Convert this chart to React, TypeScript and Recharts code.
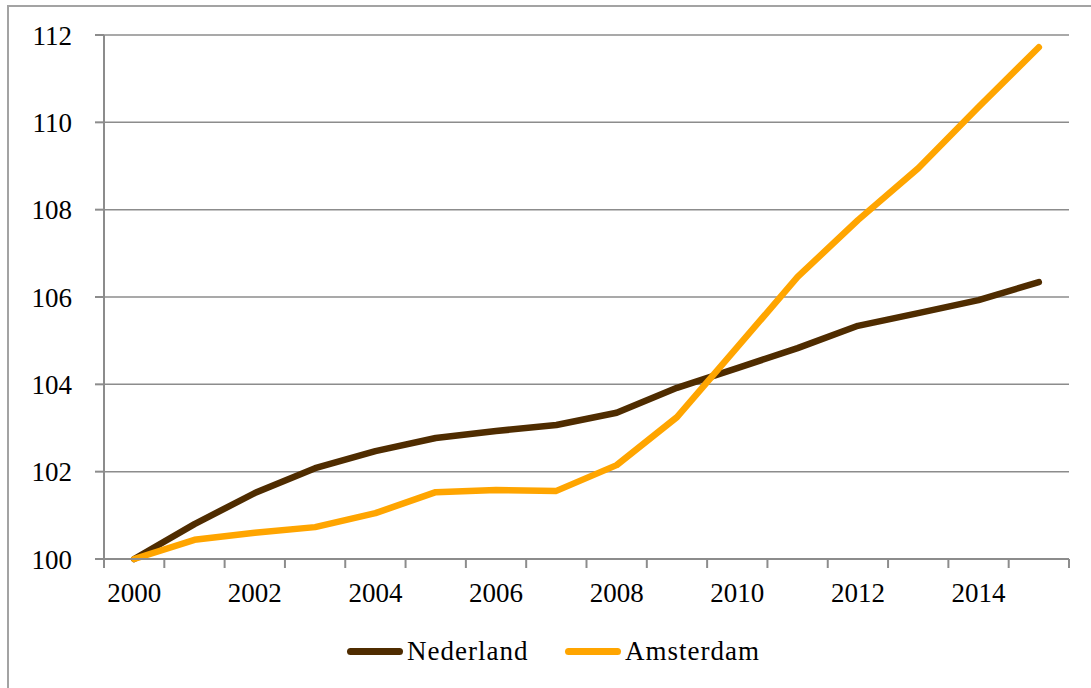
import { LineChart, Line, CartesianGrid, XAxis, YAxis } from "recharts";

// index 2000 = 100
const years = [
  "2000", "2001", "2002", "2003", "2004", "2005", "2006", "2007",
  "2008", "2009", "2010", "2011", "2012", "2013", "2014", "2015",
];
const nederland = [
  100, 100.8, 101.51, 102.08, 102.47, 102.77, 102.93, 103.07,
  103.35, 103.92, 104.37, 104.83, 105.34, 105.63, 105.93, 106.34,
];
const amsterdam = [
  100, 100.44, 100.6, 100.73, 101.05, 101.53, 101.58, 101.56,
  102.15, 103.25, 104.85, 106.46, 107.76, 108.95, 110.35, 111.72,
];
const yTicks = [100, 102, 104, 106, 108, 110, 112];

const data = years.map((y, i) => ({
  year: y,
  Nederland: nederland[i],
  Amsterdam: amsterdam[i],
}));

const FONT = "'Liberation Serif', 'Times New Roman', serif";
const AXIS = "#8c8c8c";
const BROWN = "#4f2c00";
const ORANGE = "#ffa500";

const W = 1091;
const H = 688;
const PLOT_LEFT = 104;
const PLOT_RIGHT = 1069;
const HALF = (PLOT_RIGHT - PLOT_LEFT) / years.length / 2;

function YearTick(props: any) {
  const { x, y, payload, index } = props;
  const showLabel = Number(payload.value) % 2 === 0;
  return (
    <g>
      <line x1={x - HALF} x2={x - HALF} y1={y} y2={y + 9} stroke={AXIS} strokeWidth={2} />
      {index === years.length - 1 && (
        <line x1={x + HALF} x2={x + HALF} y1={y} y2={y + 9} stroke={AXIS} strokeWidth={2} />
      )}
      {showLabel && (
        <text
          x={x}
          y={y + 34}
          textAnchor="middle"
          dominantBaseline="central"
          fill="#000"
          fontSize={27}
          fontFamily={FONT}
        >
          {payload.value}
        </text>
      )}
    </g>
  );
}

function LegendItem({ left, textLeft, color, label }: { left: number; textLeft: number; color: string; label: string }) {
  return (
    <>
      <div
        style={{
          position: "absolute",
          left,
          top: 648,
          width: textLeft - left - 4,
          height: 7,
          borderRadius: 3.5,
          background: color,
        }}
      />
      <div
        style={{
          position: "absolute",
          left: textLeft,
          top: 634,
          fontSize: 27,
          lineHeight: "34px",
          letterSpacing: 1,
          fontFamily: FONT,
          color: "#000",
          whiteSpace: "nowrap",
        }}
      >
        {label}
      </div>
    </>
  );
}

export default function App() {
  return (
    <div
      style={{
        position: "fixed",
        left: 0,
        top: 0,
        width: W,
        height: H,
        overflow: "hidden",
        background: "#fff",
        fontFamily: FONT,
      }}
    >
      {/* outer frame, runs off the right and bottom edges */}
      <div
        style={{
          position: "absolute",
          left: 7,
          top: 5,
          width: 1200,
          height: 800,
          border: "2px solid #a3a3a3",
        }}
      />
      <div style={{ position: "absolute", left: 0, top: 0 }}>
        <LineChart width={W} height={H} data={data} margin={{ top: 35, right: W - PLOT_RIGHT, bottom: 0, left: 0 }}>
          <CartesianGrid vertical={false} stroke={AXIS} strokeWidth={1.5} />
          <XAxis
            dataKey="year"
            height={H - 559}
            interval={0}
            padding={{ left: HALF, right: HALF }}
            tickSize={0}
            tickMargin={0}
            tickLine={false}
            axisLine={{ stroke: AXIS, strokeWidth: 2 }}
            tick={<YearTick />}
          />
          <YAxis
            width={PLOT_LEFT}
            domain={[100, 112]}
            ticks={yTicks}
            interval={0}
            tickSize={9}
            tickMargin={23}
            tickLine={{ stroke: AXIS, strokeWidth: 2 }}
            axisLine={{ stroke: AXIS, strokeWidth: 2 }}
            tick={{ fill: "#000", fontSize: 27, fontFamily: FONT }}
          />
          <Line
            type="linear"
            dataKey="Nederland"
            stroke={BROWN}
            strokeWidth={6.5}
            strokeLinecap="round"
            strokeLinejoin="round"
            dot={false}
            activeDot={false}
            isAnimationActive={false}
          />
          <Line
            type="linear"
            dataKey="Amsterdam"
            stroke={ORANGE}
            strokeWidth={6.5}
            strokeLinecap="round"
            strokeLinejoin="round"
            dot={false}
            activeDot={false}
            isAnimationActive={false}
          />
        </LineChart>
      </div>
      <LegendItem left={347} textLeft={407} color={BROWN} label="Nederland" />
      <LegendItem left={565} textLeft={625} color={ORANGE} label="Amsterdam" />
    </div>
  );
}
